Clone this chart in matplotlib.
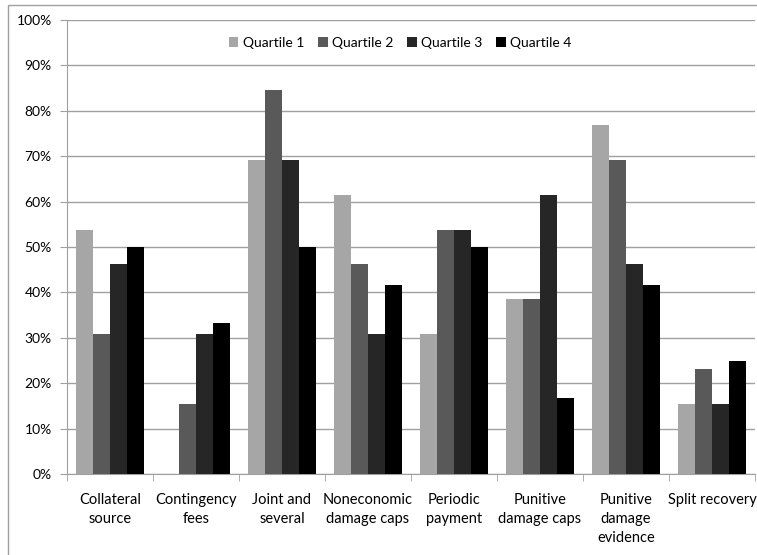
import numpy as np
import matplotlib.pyplot as plt
from matplotlib.patches import Rectangle
from matplotlib.ticker import FuncFormatter, FixedLocator

plt.rcParams['font.family'] = ['Lato', 'DejaVu Sans']

categories = ['Collateral\nsource', 'Contingency\nfees', 'Joint and\nseveral',
              'Noneconomic\ndamage caps', 'Periodic\npayment', 'Punitive\ndamage caps',
              'Punitive\ndamage\nevidence', 'Split recovery']
quartile_1 = [53.8, 0.0, 69.2, 61.5, 30.8, 38.5, 76.9, 15.4]
quartile_2 = [30.8, 15.4, 84.6, 46.2, 53.8, 38.5, 69.2, 23.1]
quartile_3 = [46.2, 30.8, 69.2, 30.8, 53.8, 61.5, 46.2, 15.4]
quartile_4 = [50.0, 33.3, 50.0, 41.7, 50.0, 16.7, 41.7, 25.0]
series_names = ['Quartile 1', 'Quartile 2', 'Quartile 3', 'Quartile 4']
colors = ['#a6a6a6', '#595959', '#262626', '#000000']

fig = plt.figure(figsize=(7.57, 5.55), dpi=100)
ax = fig.add_axes([67 / 757, 81 / 555, 688 / 757, 454 / 555])

# outer chart border (only top/left visible in the crop)
fig.patches.append(Rectangle((8 / 757, -0.1), 1.1, 1 - 5 / 555 + 0.1,
                             transform=fig.transFigure, fill=False,
                             edgecolor='#a0a0a0', linewidth=1.0))

x = np.arange(len(categories))
w = 0.2
for i, (vals, name) in enumerate(zip([quartile_1, quartile_2, quartile_3, quartile_4], series_names)):
    ax.bar(x + (i - 1.5) * w, vals, width=w, color=colors[i], label=name, zorder=3)

ax.set_xlim(-0.5, len(categories) - 0.5)
ax.set_ylim(0, 100)
ax.set_yticks(np.arange(0, 101, 10))
ax.yaxis.set_major_formatter(FuncFormatter(lambda v, p: f'{int(v)}%'))
ax.grid(axis='y', color='#a0a0a0', linewidth=1.0, zorder=0)

ax.set_xticks(x)
ax.set_xticklabels(categories, fontsize=10.5, linespacing=1.45)
ax.tick_params(axis='x', length=0, pad=14)
ax.xaxis.set_minor_locator(FixedLocator(np.arange(-0.5, len(categories), 1.0)))
ax.tick_params(axis='x', which='minor', length=5, color='#a0a0a0', direction='out')
ax.tick_params(axis='y', length=5, color='#a0a0a0', labelsize=10, pad=6)

for s in ['top', 'right']:
    ax.spines[s].set_visible(False)
for s in ['left', 'bottom']:
    ax.spines[s].set_color('#a0a0a0')

ax.legend(loc='center', bbox_to_anchor=(0.484, 0.949), ncol=4, frameon=False,
          fontsize=10, handlelength=0.7, handleheight=0.7, handletextpad=0.3,
          columnspacing=1.0)

fig.savefig('out.png', dpi=100)
